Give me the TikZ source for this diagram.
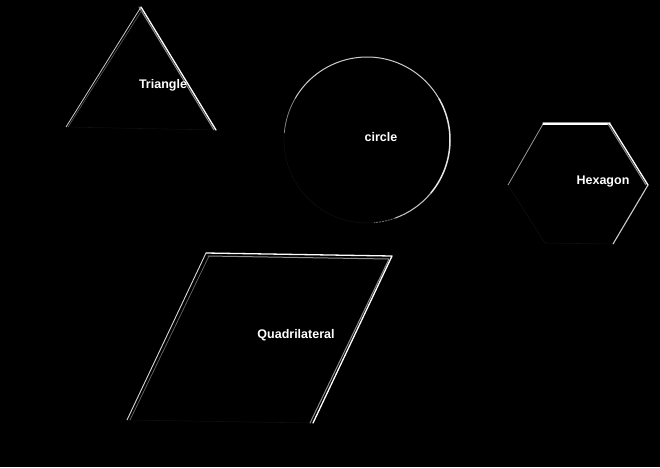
\documentclass[tikz,border=0pt]{standalone}
\usepackage{fontspec}
\setmainfont{Liberation Sans}
\begin{document}
\begin{tikzpicture}[x=1pt,y=-1pt,
  hi/.style={draw=white,line width=1.3pt,line cap=round,line join=round},
  lo/.style={draw=black!45,line width=1pt,line cap=round,line join=round},
  faint/.style={draw=black!94,line width=0.6pt},
  lbl/.style={text=white,font=\fontsize{12.5}{14}\selectfont\bfseries,inner sep=0pt}]
\fill[black] (0,0) rectangle (660,467);
\useasboundingbox (0,0) rectangle (660,467);
% Triangle
\coordinate (ta) at (141,7);
\coordinate (tl) at (66,127);
\coordinate (tr) at (216,130);
\draw[faint] (tl) -- (tr);
\draw[lo] ([xshift=-2]ta) -- ([xshift=-2]tr);
\draw[hi] (ta) -- (tr);
\draw[draw=black!20,line width=0.8pt] (tl) -- (ta);
\draw[draw=black!65,line width=0.6pt] ([xshift=2]tl) -- ([shift={(1,3)}]ta);
\node[lbl] (tlabel) at (163,85) {Triangle};
% Circle
\coordinate (cc) at (367,140);
\draw[faint] (cc) circle[radius=83];
\draw[draw=black!50,line width=0.8pt] ([shift={(-175:83)}]cc) arc[start angle=-175,end angle=-150,radius=83];
\draw[draw=black!20,line width=1pt] ([shift={(-150:83)}]cc) arc[start angle=-150,end angle=-30,radius=83];
\draw[draw=black!10,line width=1.5pt] ([shift={(-30:83)}]cc) arc[start angle=-30,end angle=40,radius=83];
\draw[draw=black!25,line width=1.1pt] ([shift={(40:83)}]cc) arc[start angle=40,end angle=70,radius=83];
\draw[draw=black!55,line width=0.8pt,dash pattern=on 2pt off 1pt] ([shift={(70:83)}]cc) arc[start angle=70,end angle=85,radius=83];
\node[lbl] (clabel) at (381,137) {circle};
% Hexagon
\coordinate (h1) at (543,124);
\coordinate (h2) at (610,124);
\coordinate (h3) at (648,185);
\coordinate (h4) at (613,244);
\coordinate (h5) at (545,243);
\coordinate (h6) at (508,185);
\draw[faint] (h4) -- (h5) -- (h6);
\draw[draw=black!40,line width=0.8pt] (h6) -- (h1);
\draw[lo] ([yshift=2]h1) -- ([yshift=2]h2);
\draw[hi] (h1) -- (h2);
\draw[lo] ([xshift=-2]h2) -- ([xshift=-2]h3);
\draw[hi] (h2) -- (h3);
\draw[draw=black!20,line width=1.1pt] (h3) -- (h4);
\node[lbl] (hlabel) at (603,182) {Hexagon};
% Quadrilateral
\coordinate (q1) at (206,253);
\coordinate (q2) at (392,256);
\coordinate (q3) at (313,423);
\coordinate (q4) at (127,420);
\draw[faint] (q3) -- (q4);
\draw[lo] ([shift={(2,3)}]q1) -- ([shift={(-3,3)}]q2) -- ([shift={(-3,0)}]q3);
\draw[hi] (q1) -- (q2) -- (q3);
\draw[draw=black!15,line width=0.9pt] (q4) -- (q1);
\draw[draw=black!60,line width=0.7pt] ([xshift=3]q4) -- ([shift={(3,3)}]q1);
\node[lbl] (qlabel) at (296,335) {Quadrilateral};
\end{tikzpicture}
\end{document}
